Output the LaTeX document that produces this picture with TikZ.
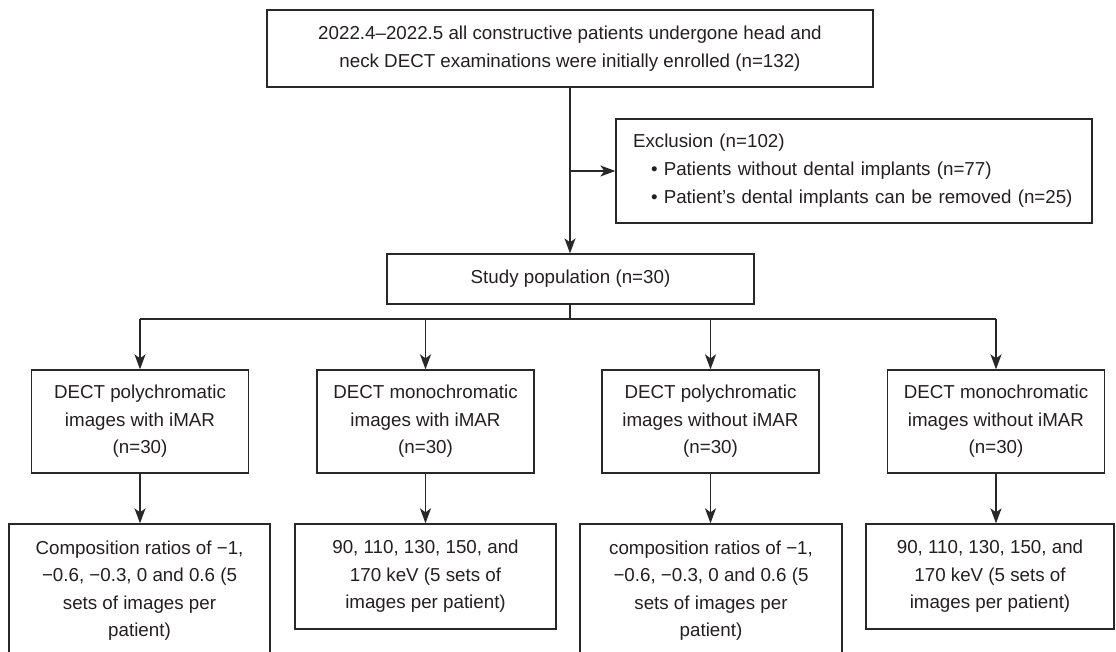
\documentclass[tikz,border=0pt]{standalone}
\usepackage{fontspec}
\setmainfont{Liberation Sans}
\usetikzlibrary{arrows.meta}
\definecolor{txtcol}{RGB}{35,31,32}
\definecolor{linecol}{RGB}{40,40,40}
\begin{document}
\begin{tikzpicture}[x=1pt,y=-1pt,
  box/.style={draw=linecol, line width=1.3pt, align=center, inner sep=0pt, text=txtcol,
    font=\fontsize{18.75}{27.5}\selectfont},
  conn/.style={draw=linecol, line width=1.3pt},
  arr/.style={conn, -{Stealth[length=15pt,width=11pt,inset=4pt]}}]
\useasboundingbox (0,0) rectangle (1116,652);
\clip (0,0) rectangle (1116,652);
\node[box, minimum width=606, minimum height=77] (top) at (570,48.5)
  {2022.4–2022.5 all constructive patients undergone head and\\neck DECT examinations were initially enrolled (n=132)};
\node[box, minimum width=476, minimum height=104, text width=442, align=left,
  font=\fontsize{18.75}{28}\selectfont] (excl) at (854,171)
  {Exclusion (n=102)\\\hspace*{18pt}• Patients without dental implants (n=77)\\\hspace*{18pt}• Patient’s dental implants can be removed (n=25)};
\node[box, minimum width=367, minimum height=50] (study) at (570.5,279) {Study population (n=30)};
\node[box, minimum width=217, minimum height=103] (m1) at (140,421.5) {DECT polychromatic\\images with iMAR\\(n=30)};
\node[box, minimum width=217, minimum height=103] (m2) at (425.5,421.5) {DECT monochromatic\\images with iMAR\\(n=30)};
\node[box, minimum width=217, minimum height=103] (m3) at (710.5,421.5) {DECT polychromatic\\images without iMAR\\(n=30)};
\node[box, minimum width=217, minimum height=103] (m4) at (996,421.5) {DECT monochromatic\\images without iMAR\\(n=30)};
\node[box, minimum width=261, minimum height=133] (b1) at (139.5,590.5) {Composition ratios of −1,\\−0.6, −0.3, 0 and 0.6 (5\\sets of images per\\patient)};
\node[box, minimum width=261, minimum height=105] (b2) at (425.5,576.5) {90, 110, 130, 150, and\\170 keV (5 sets of\\images per patient)};
\node[box, minimum width=262, minimum height=133] (b3) at (711,590.5) {composition ratios of −1,\\−0.6, −0.3, 0 and 0.6 (5\\sets of images per\\patient)};
\node[box, minimum width=248, minimum height=105] (b4) at (990,576.5) {90, 110, 130, 150, and\\170 keV (5 sets of\\images per patient)};
\coordinate (split) at (570,171);
\coordinate (br) at (570,319);
\draw[arr] (top.south) -- (top.south |- study.north);
\draw[arr] (split) -- (excl.west);
\draw[conn] (study.south -| br) -- (br);
\draw[conn] (br -| m1.north) -- (br -| m4.north);
\draw[arr] (br -| m1.north) -- (m1.north);
\draw[arr] (br -| m2.north) -- (m2.north);
\draw[arr] (br -| m3.north) -- (m3.north);
\draw[arr] (br -| m4.north) -- (m4.north);
\draw[arr] (m1.south) -- (m1.south |- b1.north);
\draw[arr] (m2.south) -- (m2.south |- b2.north);
\draw[arr] (m3.south) -- (m3.south |- b3.north);
\draw[arr] (m4.south) -- (m4.south |- b4.north);
\end{tikzpicture}
\end{document}
